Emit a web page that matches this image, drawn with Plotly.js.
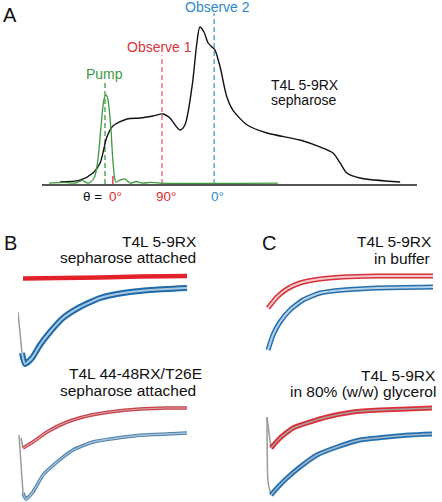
<!DOCTYPE html>
<html><head><meta charset="utf-8">
<script src="https://cdn.plot.ly/plotly-3.0.1.min.js"></script>
<style>html,body{margin:0;padding:0;background:#fff;}#chart{width:442px;height:502px;}</style>
</head><body><div id="chart"></div>
<script>
// ---------- Panel A: EPR absorption spectrum (arbitrary field units 0-100) ----------
const fieldA = [4.8,10.1,13.6,15.5,17.3,18.9,22.7,26.1,29.6,32.3,34.1,36.8,38.1,40.0,41.3,42.1,43.2,44.3,45.3,46.1,47.5,49.3,50.9,54.7,60.0,68.8,74.1,77.6,79.5,81.3,84.8,95.5];
const absA   = [0.013,0.025,0.070,0.134,0.299,0.369,0.414,0.420,0.433,0.446,0.420,0.344,0.376,0.618,0.898,1.0,0.968,0.898,0.873,0.854,0.745,0.554,0.471,0.376,0.325,0.280,0.236,0.197,0.134,0.070,0.038,0.013];
const fieldPump = [1.9,6.1,8.8,10.7,12.3,13.9,14.9,15.7,16.5,17.1,17.6,18.4,18.9,19.7,20.8,22.1,23.5,25.1,26.7,28.8,31.5,62.9];
const pumpA     = [0.006,0.010,0.006,0.022,0.006,0.038,0.153,0.357,0.535,0.567,0.535,0.344,0.153,0.013,0.025,0.032,0.006,0.016,0.006,0.010,0.006,0.006];
const markerNames = ['Pump','Observe 1','Observe 2'];
const markerPos = [16.8, 32.0, 45.9];
const markerTop = [0.65, 0.82, 1.09];
const tickPos = 18.9, tickTop = 0.051;
const thetaLabels = ['θ =', '0°','90°','0°'];

// ---------- Panel B: T4L 5-9RX / T4L 44-48RX/T26E sepharose attached ----------
const bTopRedT = [5,42,82,122,169];
const bTopRedS = [223.5,224,224.5,225.5,226];
const bTopBlueT = [4,7,14,22,32,45,62,82,105,132,169];
const bTopBlueS = [149,138,144,157,170,184,195,204,209,212,214];
const bTopSpikeT = [0,4];
const bTopSpikeS = [190,149];
const bBotRedT = [5,15,29,49,69,92,122,149,169];
const bBotRedS = [54,60,70,80,86,90,93,94,94];
const bBotRedSpikeT = [3,5];
const bBotRedSpikeS = [64,54];
const bBotBlueT = [5,8,15,25,39,55,75,99,125,149,169];
const bBotBlueS = [9,3,10,27,40,52,60,64,67,68,69];
const bBotBlueSpikeT = [1,5];
const bBotBlueSpikeS = [67,9];

// ---------- Panel C: T4L 5-9RX in buffer / in 80% glycerol ----------
const cTopRedT = [6,15,25,38,58,81,115,171];
const cTopRedS = [194,205,213,219,223,225,226,226];
const cTopBlueT = [6,11,18,28,41,58,81,115,171];
const cTopBlueS = [152,167,180,192,202,209,212,214,215];
const cBotRedT = [9,18,31,48,65,91,118,145,170];
const cBotRedS = [54,64,74,80,85,90,92,93,94];
const cBotRedSpikeT = [5,9];
const cBotRedSpikeS = [85,54];
const cBotBlueT = [9,15,25,38,55,75,98,125,148,170];
const cBotBlueS = [7,14,24,35,47,55,62,65,67,68];
const cBotBlueSpikeT = [5,6,9];
const cBotBlueSpikeS = [85,20,7];

const W = 442, H = 502;
const px = x => x / W;
const py = y => 1 - y / H;
const FONT = 'Liberation Sans, Arial, Helvetica, sans-serif';
const RED = '#dc2b33', BLUE = '#2a74b1', GREEN = '#3b9a3e';

const traces = [];
function line(x, y, xa, ya, color, width, smooth) {
  traces.push({x, y, xaxis: xa, yaxis: ya, type: 'scatter', mode: 'lines',
    line: {color, width, shape: 'spline', smoothing: smooth === undefined ? 0.5 : smooth},
    hoverinfo: 'skip', showlegend: false});
}

// Panel A
for (let i = 0; i < markerPos.length; i++) {
  const c = [GREEN, '#e0656b', '#4a9bd0'][i];
  traces.push({x: [markerPos[i], markerPos[i]], y: [0, markerTop[i]], xaxis: 'x', yaxis: 'y',
    type: 'scatter', mode: 'lines', line: {color: c, width: 1.3, dash: '5px,3px'},
    hoverinfo: 'skip', showlegend: false});
}
traces.push({x: [tickPos, tickPos], y: [0, tickTop], xaxis: 'x', yaxis: 'y', type: 'scatter',
  mode: 'lines', line: {color: RED, width: 1.3}, hoverinfo: 'skip', showlegend: false});
line(fieldA, absA, 'x', 'y', '#111', 1.4, 0.8);
line(fieldPump, pumpA, 'x', 'y', GREEN, 1.3, 0.8);

// Panel B
line(bTopRedT, bTopRedS, 'x2', 'y2', '#e2222a', 4.5);
line(bTopSpikeT, bTopSpikeS, 'x2', 'y2', '#9a9a9a', 1.5);
line(bTopBlueT, bTopBlueS, 'x2', 'y2', '#1f6aa8', 6);
line(bTopBlueT, bTopBlueS, 'x2', 'y2', '#a9c8e0', 2);
line(bBotRedSpikeT, bBotRedSpikeS, 'x2', 'y2', '#9a9a9a', 1.5);
line(bBotBlueSpikeT, bBotBlueSpikeS, 'x2', 'y2', '#9a9a9a', 1.5);
line(bBotRedT, bBotRedS, 'x2', 'y2', '#c9404b', 3.5);
line(bBotRedT, bBotRedS, 'x2', 'y2', '#d7a3a8', 1.1);
line(bBotBlueT, bBotBlueS, 'x2', 'y2', '#4f82ad', 3.5);
line(bBotBlueT, bBotBlueS, 'x2', 'y2', '#a6c0d6', 1.3);

// Panel C
line(cTopRedT, cTopRedS, 'x3', 'y3', '#d8303a', 5);
line(cTopRedT, cTopRedS, 'x3', 'y3', '#f2c9cc', 2);
line(cTopBlueT, cTopBlueS, 'x3', 'y3', '#236fae', 5);
line(cTopBlueT, cTopBlueS, 'x3', 'y3', '#b7d1e6', 2);
line(cBotRedSpikeT, cBotRedSpikeS, 'x3', 'y3', '#9a9a9a', 1.5);
line(cBotBlueSpikeT, cBotBlueSpikeS, 'x3', 'y3', '#9a9a9a', 1.5);
line(cBotRedT, cBotRedS, 'x3', 'y3', '#da2e37', 5);
line(cBotRedT, cBotRedS, 'x3', 'y3', '#a8a0a0', 1.5);
line(cBotBlueT, cBotBlueS, 'x3', 'y3', '#2470b0', 5);
line(cBotBlueT, cBotBlueS, 'x3', 'y3', '#9fb8cc', 1.5);

const hidden = {showgrid: false, zeroline: false, showline: false, showticklabels: false, ticks: '', fixedrange: true};

const ann = [];
function txt(text, x, y, xref, yref, size, color, xanchor) {
  ann.push({text, x, y, xref, yref, showarrow: false, xanchor: xanchor || 'center', yanchor: 'middle',
    font: {family: FONT, size, color}, borderpad: 0, borderwidth: 0});
}
// panel letters
txt('A', px(10), py(15), 'paper', 'paper', 20, '#111');
txt('B', px(10), py(243), 'paper', 'paper', 20, '#111');
txt('C', px(269), py(243), 'paper', 'paper', 20, '#111');
// panel A labels
txt(markerNames[0], 16.6, 0.70, 'x', 'y', 14, GREEN);
txt(markerNames[1], 31.2, 0.873, 'x', 'y', 14, '#d8343c');
txt(markerNames[2], 46.7, 1.127, 'x', 'y', 14, '#2d8ac4');
txt('T4L 5-9RX', 61.1, 0.63, 'x', 'y', 14, '#111', 'left');
txt('sepharose', 61.1, 0.535, 'x', 'y', 14, '#111', 'left');
// angle labels under the axis (paper coordinates, below the axis line)
txt(thetaLabels[0], px(92), py(196), 'paper', 'paper', 13.5, '#111');
txt(thetaLabels[1], px(115), py(196), 'paper', 'paper', 13.5, RED);
txt(thetaLabels[2], px(166), py(196), 'paper', 'paper', 13.5, RED);
txt(thetaLabels[3], px(217), py(196), 'paper', 'paper', 13.5, '#2d8ac4');
// panel B/C labels
txt('T4L 5-9RX', px(197), py(241.5), 'paper', 'paper', 15.5, '#111', 'right');
txt('sepharose attached', px(196), py(257.5), 'paper', 'paper', 15.5, '#111', 'right');
txt('T4L 44-48RX/T26E', px(202), py(373.5), 'paper', 'paper', 15.5, '#111', 'right');
txt('sepharose attached', px(196), py(390), 'paper', 'paper', 15.5, '#111', 'right');
txt('T4L 5-9RX', px(432), py(241.5), 'paper', 'paper', 15.5, '#111', 'right');
txt('in buffer', px(430), py(258), 'paper', 'paper', 15.5, '#111', 'right');
txt('T4L 5-9RX', px(436), py(375), 'paper', 'paper', 15.5, '#111', 'right');
txt('in 80% (w/w) glycerol', px(436), py(391.5), 'paper', 'paper', 15.5, '#111', 'right');

const layout = {
  width: W, height: H, margin: {l: 0, r: 0, t: 0, b: 0},
  paper_bgcolor: '#fff', plot_bgcolor: 'rgba(0,0,0,0)', showlegend: false, hovermode: false,
  font: {family: FONT},
  xaxis: Object.assign({}, hidden, {domain: [px(42), px(417)], range: [0, 100], anchor: 'y',
    showline: true, linecolor: '#555', linewidth: 1.5}),
  yaxis: Object.assign({}, hidden, {domain: [py(184), py(5)], range: [0, 1.14], anchor: 'x'}),
  xaxis2: Object.assign({}, hidden, {domain: [px(18), px(190)], range: [0, 172], anchor: 'y2'}),
  yaxis2: Object.assign({}, hidden, {domain: [0, py(265)], range: [0, 237], anchor: 'x2'}),
  xaxis3: Object.assign({}, hidden, {domain: [px(262), px(436)], range: [0, 174], anchor: 'y3'}),
  yaxis3: Object.assign({}, hidden, {domain: [0, py(265)], range: [0, 237], anchor: 'x3'}),
  annotations: ann
};
Plotly.newPlot('chart', traces, layout, {displayModeBar: false, staticPlot: true});
</script></body></html>
